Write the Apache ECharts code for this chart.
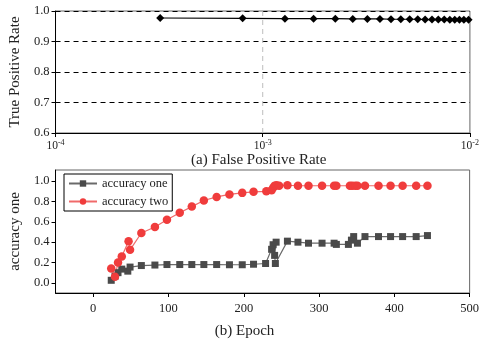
<!DOCTYPE html>
<html>
<head>
<meta charset="utf-8">
<script src="https://cdn.jsdelivr.net/npm/echarts@6/dist/echarts.min.js"></script>
<style>
  html, body { margin: 0; padding: 0; background: #fff; }
  #main { width: 482px; height: 342px; }
</style>
</head>
<body>
<div id="main"></div>
<script>
// (a) ROC curve
const fpr = [0.00032, 0.00080, 0.00128, 0.00176, 0.00224, 0.00272, 0.00320, 0.00368, 0.00416, 0.00464,
  0.00512, 0.00560, 0.00608, 0.00656, 0.00704, 0.00752, 0.00800, 0.00845, 0.00890, 0.00935, 0.00985];
const tpr = [0.977, 0.976, 0.975, 0.975, 0.975, 0.974, 0.974, 0.974, 0.973, 0.973,
  0.973, 0.973, 0.972, 0.972, 0.972, 0.972, 0.971, 0.971, 0.971, 0.971, 0.971];
// vertical reference line at FPR = 1e-3
const refLine = [[0.001, 0.6], [0.001, 1.0]];

// (b) accuracy curves
const epochsOne = [24, 29, 33, 38, 46, 49, 64, 82, 98, 115, 131, 147, 164, 181, 198, 213, 229,
  237, 239, 243, 241, 242, 258, 272, 286, 304, 320, 323, 339, 343, 346, 351, 361, 379, 395, 411, 429, 444];
const accOne = [0.025, 0.065, 0.10, 0.135, 0.115, 0.155, 0.17, 0.175, 0.18, 0.18, 0.18, 0.18, 0.18, 0.178, 0.178, 0.183, 0.19,
  0.33, 0.375, 0.40, 0.27, 0.19, 0.41, 0.40, 0.39, 0.39, 0.39, 0.378, 0.378, 0.42, 0.455, 0.39, 0.455, 0.455, 0.455, 0.455, 0.455, 0.465];

const epochsTwo = [24, 29, 33, 38, 47, 49, 64, 82, 98, 115, 131, 147, 164, 181, 198, 213, 230,
  237, 239, 241, 243.5, 247, 258, 272, 286, 304, 320, 323, 341, 344, 348, 351, 361, 379, 395, 411, 429, 444];
const accTwo = [0.14, 0.06, 0.20, 0.26, 0.41, 0.325, 0.49, 0.55, 0.62, 0.69, 0.75, 0.81, 0.845, 0.87, 0.885, 0.895, 0.90,
  0.91, 0.935, 0.955, 0.96, 0.955, 0.96, 0.955, 0.955, 0.955, 0.955, 0.955, 0.955, 0.955, 0.955, 0.955, 0.955, 0.955, 0.955, 0.955, 0.955, 0.955];

const epochTicks = [0, 100, 200, 300, 400, 500];
const accTicks = [0, 0.2, 0.4, 0.6, 0.8, 1.0];

const FONT = 'Liberation Serif';
const txt = { fontFamily: FONT, fontSize: 12.5, color: '#222' };
const nameTxt = { fontFamily: FONT, fontSize: 15, color: '#222' };

const zip = (xs, ys) => xs.map((x, i) => [x, ys[i]]);

const myChart = echarts.init(document.getElementById('main'));
myChart.setOption({
  animation: false,
  textStyle: { fontFamily: FONT },
  grid: [
    { left: 52, right: 9, top: 11, height: 122, show: true, borderColor: '#666', borderWidth: 1 },
    { left: 52, right: 9, top: 170, height: 123, show: true, borderColor: '#666', borderWidth: 1 }
  ],
  legend: {
    data: ['accuracy one', 'accuracy two'],
    orient: 'vertical',
    left: 64,
    top: 174,
    itemWidth: 28,
    itemHeight: 8,
    itemGap: 5,
    padding: [3, 4, 3, 4],
    borderColor: '#000',
    borderWidth: 1,
    borderRadius: 0,
    backgroundColor: '#fff',
    textStyle: { fontFamily: FONT, fontSize: 12.5, color: '#222' }
  },
  xAxis: [
    {
      gridIndex: 0,
      type: 'log',
      logBase: 10,
      min: 0.0001,
      max: 0.01,
      name: '(a) False Positive Rate',
      nameLocation: 'middle',
      nameGap: 17,
      nameTextStyle: Object.assign({ padding: [0, 8, 0, 0] }, nameTxt),
      axisLine: { lineStyle: { color: '#000' } },
      axisTick: { inside: false, length: 4, lineStyle: { color: '#000' } },
      axisLabel: {
        margin: 6,
        formatter: v => '10{sup|' + Math.round(Math.log10(v)) + '}',
        rich: {
          sup: { fontFamily: FONT, fontSize: 8, color: '#222', verticalAlign: 'top', padding: [0, 0, 6, 0] }
        },
        fontFamily: FONT, fontSize: 11.5, color: '#222'
      },
      splitLine: { show: false }
    },
    {
      gridIndex: 1,
      type: 'value',
      min: -50,
      max: 500,
      name: '(b) Epoch',
      nameLocation: 'middle',
      nameGap: 31,
      nameTextStyle: Object.assign({ padding: [0, 36, 0, 0] }, nameTxt),
      axisLine: { onZero: false, lineStyle: { color: '#000' } },
      axisTick: { length: 4, customValues: epochTicks, lineStyle: { color: '#000' } },
      axisLabel: Object.assign({ customValues: epochTicks, margin: 9 }, txt),
      splitLine: { show: false }
    }
  ],
  yAxis: [
    {
      gridIndex: 0,
      type: 'value',
      min: 0.6,
      max: 1.0,
      interval: 0.1,
      name: 'True Positive Rate',
      nameLocation: 'middle',
      nameGap: 28,
      nameTextStyle: nameTxt,
      axisLine: { show: true, lineStyle: { color: '#000' } },
      axisTick: { show: true, length: 4, lineStyle: { color: '#000' } },
      axisLabel: Object.assign({ formatter: v => v.toFixed(1), margin: 6 }, txt),
      splitLine: { show: true, lineStyle: { color: '#000', type: [5, 4], width: 1 } }
    },
    {
      gridIndex: 1,
      type: 'value',
      min: -0.1,
      max: 1.11,
      name: 'accuracy one',
      nameLocation: 'middle',
      nameGap: 28,
      nameTextStyle: nameTxt,
      axisLine: { show: true, onZero: false, lineStyle: { color: '#000' } },
      axisTick: { show: true, length: 4, customValues: accTicks, lineStyle: { color: '#000' } },
      axisLabel: Object.assign({ customValues: accTicks, formatter: v => v.toFixed(1), margin: 6 }, txt),
      splitLine: { show: false }
    }
  ],
  series: [
    {
      type: 'line',
      xAxisIndex: 0,
      yAxisIndex: 0,
      data: refLine,
      symbol: 'none',
      silent: true,
      z: 1,
      lineStyle: { color: '#bdbdbd', type: [5, 4], width: 1 }
    },
    {
      type: 'line',
      xAxisIndex: 0,
      yAxisIndex: 0,
      data: zip(fpr, tpr),
      symbol: 'diamond',
      symbolSize: 8,
      itemStyle: { color: '#000' },
      lineStyle: { color: '#000', width: 1.2 }
    },
    {
      name: 'accuracy one',
      type: 'line',
      xAxisIndex: 1,
      yAxisIndex: 1,
      data: zip(epochsOne, accOne),
      symbol: 'rect',
      symbolSize: 7,
      itemStyle: { color: '#4a4a4a' },
      lineStyle: { color: '#6a6a6a', width: 1.2 }
    },
    {
      name: 'accuracy two',
      type: 'line',
      xAxisIndex: 1,
      yAxisIndex: 1,
      data: zip(epochsTwo, accTwo),
      symbol: 'circle',
      symbolSize: 8.5,
      itemStyle: { color: '#f03c3c' },
      lineStyle: { color: '#f06a6a', width: 1.2 }
    }
  ]
});

window.addEventListener('resize', () => {
  myChart.resize();
});
</script>
</body>
</html>
